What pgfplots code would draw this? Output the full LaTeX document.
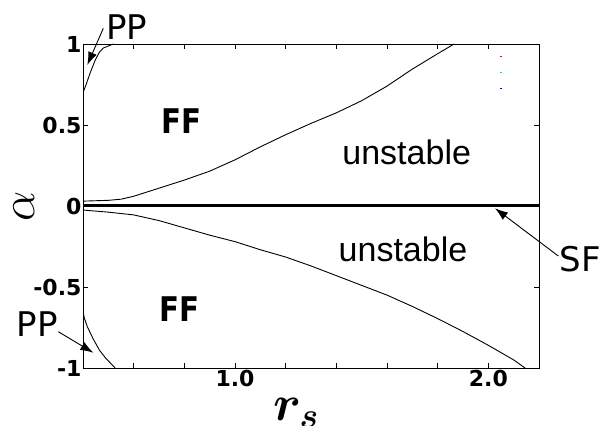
\RequirePackage{fix-cm}
\documentclass[border=0pt]{standalone}
\usepackage{amsmath,amssymb}
\usepackage{bm}
\usepackage{graphicx}
\usepackage{pgfplots}
\pgfplotsset{compat=1.18}
\usetikzlibrary{arrows.meta}
\usepackage{fontspec}
\newfontfamily\dv{DejaVu Sans}
\newfontfamily\lib{Liberation Sans}
\begin{document}
\begin{tikzpicture}
\useasboundingbox (0,0) rectangle (612pt,425pt);
\begin{axis}[
  at={(83pt,57pt)}, anchor=south west,
  scale only axis, width=456pt, height=324pt,
  xmin=0.4, xmax=2.2, ymin=-1, ymax=1,
  xtick={0.4,0.6,0.8,1.0,1.2,1.4,1.6,1.8,2.0,2.2},
  xticklabels={,,,1.0,,,,,2.0,},
  ytick={-1,-0.5,0,0.5,1},
  yticklabels={-1,-0.5,0,0.5,1},
  tick align=inside, tick pos=both,
  major tick length=5pt,
  axis line style={line width=0.9pt},
  tick style={line width=0.9pt, black},
  /pgf/number format/assume math mode=true,
  ticklabel style={font=\dv\bfseries\fontsize{22}{22}\selectfont},
  xticklabel style={yshift=1pt},
  yticklabel style={xshift=2pt},
  clip=true,
]
% SF line
\addplot[black, line width=3pt] coordinates {(0.4,0) (2.2,0)};
% upper FF/unstable boundary
\addplot[black, line width=0.9pt] coordinates {
(0.4,0.03) (0.5,0.035) (0.55,0.042) (0.6,0.06) (0.65,0.085) (0.7,0.11) (0.8,0.16) (0.9,0.215) (1.0,0.285) (1.1,0.365) (1.2,0.44) (1.3,0.51) (1.4,0.575) (1.5,0.65) (1.6,0.74) (1.7,0.845) (1.8,0.94) (1.865,1.0)};
% lower FF/unstable boundary
\addplot[black, line width=0.9pt] coordinates {
(0.4,-0.025) (0.5,-0.038) (0.6,-0.055) (0.7,-0.09) (0.8,-0.135) (0.9,-0.18) (1.0,-0.22) (1.1,-0.27) (1.2,-0.315) (1.3,-0.37) (1.4,-0.43) (1.5,-0.49) (1.6,-0.55) (1.7,-0.62) (1.8,-0.695) (1.9,-0.775) (2.0,-0.86) (2.1,-0.95) (2.145,-1.0)};
% PP upper
\addplot[black, line width=0.9pt] coordinates {
(0.4,0.70) (0.41,0.74) (0.428,0.82) (0.448,0.90) (0.465,0.95) (0.48,0.975) (0.52,1.0)};
% PP lower
\addplot[black, line width=0.9pt] coordinates {
(0.4,-0.65) (0.405,-0.69) (0.417,-0.745) (0.44,-0.82) (0.465,-0.89) (0.49,-0.94) (0.527,-1.0)};
% tiny legend marks
\addplot[only marks, mark=-, mark size=1pt, red] coordinates {(2.051,0.922)};
\addplot[only marks, mark=-, mark size=1pt, green] coordinates {(2.051,0.827)};
\addplot[only marks, mark=-, mark size=1pt, blue] coordinates {(2.051,0.730)};
\end{axis}
% region labels
\node[anchor=base, inner sep=0, font=\dv\bfseries\fontsize{34}{34}\selectfont] at (181.7pt,291.7pt) {\scalebox{0.86}[1]{FF}};
\node[anchor=base, inner sep=0, font=\dv\bfseries\fontsize{34}{34}\selectfont] at (179pt,103.3pt) {\scalebox{0.86}[1]{FF}};
\node[anchor=base, inner sep=0, font=\lib\fontsize{34}{34}\selectfont] at (406.7pt,260pt) {unstable};
\node[anchor=base, inner sep=0, font=\lib\fontsize{34}{34}\selectfont] at (403pt,163.3pt) {unstable};
\node[anchor=base, inner sep=0, font=\dv\fontsize{34}{34}\selectfont] at (126.7pt,385pt) {PP};
\node[anchor=base, inner sep=0, font=\dv\fontsize{34}{34}\selectfont] at (37.5pt,88.3pt) {PP};
\node[anchor=base, inner sep=0, font=\dv\fontsize{34}{34}\selectfont] at (580pt,153.3pt) {SF};
% arrows
\draw[line width=0.9pt, -{Latex[length=13pt,width=9pt]}] (103.3pt,396.7pt) -- (87.3pt,360pt);
\draw[line width=0.9pt, -{Latex[length=13pt,width=9pt]}] (58.3pt,93.3pt) -- (93.3pt,72.3pt);
\draw[line width=0.9pt, -{Latex[length=13pt,width=9pt]}] (558.3pt,169pt) -- (495pt,216.7pt);
% axis labels
\node[rotate=90, inner sep=0, font=\fontsize{48}{48}\selectfont] at (24pt,219pt) {$\alpha$};
\node[anchor=base west, inner sep=0, font=\fontsize{50}{50}\selectfont] at (273pt,5pt) {$\bm{r}_{\bm{s}}$};
\end{tikzpicture}
\end{document}
